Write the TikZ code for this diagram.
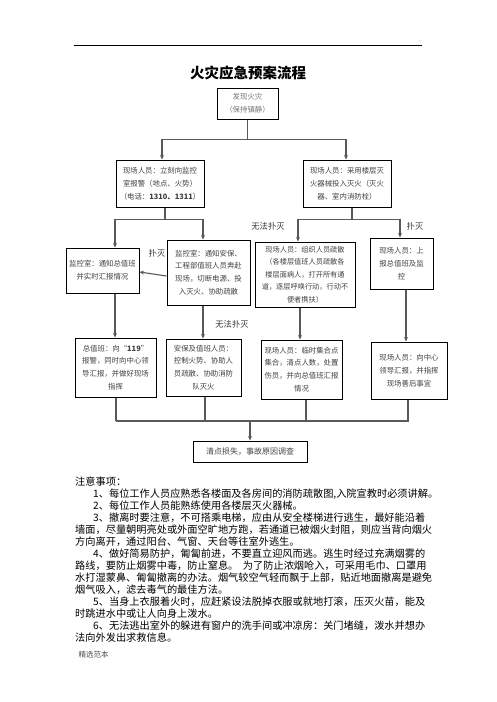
\documentclass[tikz,border=0pt]{standalone}
\usepackage{fontspec}
\setmainfont{Noto Sans CJK SC}
\usetikzlibrary{arrows.meta,calc}

\tikzset{
    box/.style={draw, line width=1pt, align=center, inner sep=1pt,
        text=black!75, font=\fontsize{7.4}{12.8}\selectfont},
    lbl/.style={font=\fontsize{8.3}{10}\selectfont, text=black!80},
    link/.style={line width=1.1pt, draw=black!65},
}

\begin{document}
\begin{tikzpicture}[x=1pt, y=-1pt, >={Stealth[length=4.5pt,width=4pt]}]
    \useasboundingbox (0,0) rectangle (496,702);

    % page head
    \draw[line width=1pt] (74,45) -- (422,45);
    \node[font=\tiny] at (420,41) {.};
    \node[font=\fontsize{14.5}{16}\selectfont\bfseries] (title) at (248,73) {火灾应急预案流程};

    % boxes
    \node[box, text=black!55, minimum width=61, minimum height=31] (found) at (247.5,103.5) {发现火灾\\（保持镇静）};
    \node[box, minimum width=88, minimum height=47] (alarm) at (160,183.5) {现场人员：立刻向监控\\室报警（地点、火势）\\（电话：\textbf{1310、1311}）};
    \node[box, minimum width=88, minimum height=47] (fight) at (347,183.5) {现场人员：采用楼层灭\\火器械投入灭火（灭火\\器、室内消防栓）};
    \node[box, minimum width=73, minimum height=45] (report) at (102.5,270.5) {监控室：通知总值班\\并实时汇报情况};
    \node[box, minimum width=83, minimum height=65] (notify) at (208.5,272.5) {监控室：通知安保、\\工程部值班人员奔赴\\现场，切断电源、投\\入灭火、协助疏散};
    \node[box, minimum width=100, minimum height=65, font=\fontsize{7.2}{12.4}\selectfont] (evac) at (305,274.5) {现场人员：组织人员疏散\\（各楼层值班人员疏散各\\楼层面病人，打开所有通\\道，逐层呼唤行动，行动不\\便者携扶）};
    \node[box, minimum width=63, minimum height=51] (upward) at (401.5,263.5) {现场人员：上\\报总值班及监\\控};
    \node[box, minimum width=81, minimum height=59] (duty) at (115.5,367.5) {总值班：向“\textbf{119}”\\报警，同时向中心领\\导汇报，并做好现场\\指挥};
    \node[box, minimum width=75, minimum height=57] (guard) at (203.5,367.5) {安保及值班人员：\\控制火势、协助人\\员疏散、协助消防\\队灭火};
    \node[box, minimum width=81, minimum height=59] (gather) at (301.5,369.5) {现场人员：临时集合点\\集合，清点人数，处置\\伤员，并向总值班汇报\\情况};
    \node[box, minimum width=76, minimum height=57] (leader) at (409,370.5) {现场人员：向中心\\领导汇报，并指挥\\现场善后事宜};
    \node[box, minimum width=114, minimum height=21, font=\fontsize{8}{10}\selectfont] (loss) at (250,451.5) {清点损失，事故原因调查};

    % connectors
    \draw[link] (found.south) -- ++(0,20) coordinate (j1);
    \draw[link, ->] (j1) -| ([xshift=2]alarm.north);
    \draw[link, ->] (j1) -| ([xshift=-1]fight.north);
    \draw[link] ([xshift=5]alarm.south) -- ++(0,12) coordinate (j2);
    \draw[link, ->] (j2) -| ([xshift=12.5]report.north);
    \draw[link, ->] (j2) -| ([xshift=-5.5]notify.north);
    \draw[link] ([xshift=5]fight.south) -- ++(0,12) coordinate (j3);
    \draw[link, ->] (j3) -| ([xshift=-7]evac.north);
    \draw[link, ->] (j3) -| ([xshift=-1.5]upward.north);
    \draw[link, ->] ([yshift=-3.5]notify.west) -- ([yshift=-1.5]report.east);
    \draw[link, ->] ([xshift=12.5]report.south) -- ([xshift=-0.5]duty.north);
    \draw[link, ->] ([xshift=-5.5]notify.south) -- ([xshift=-0.5]guard.north);
    \draw[link, ->] ([xshift=-5]evac.south) -- ([xshift=-1.5]gather.north);
    \draw[link, ->] ([xshift=4.5]upward.south) -- ([xshift=-3]leader.north);
    \draw[link] ([xshift=0.5]duty.south) -- ++(0,23.5) coordinate (j4);
    \draw[link] ([xshift=1.5]guard.south) |- (j4);
    \draw[link] ([xshift=4.5]gather.south) |- (j4);
    \draw[link] ([xshift=-1]leader.south) |- (j4);
    \draw[link, ->] (loss.north |- j4) -- (loss.north);

    % labels on the links
    \node[lbl] at (157,253) {扑灭};
    \node[lbl] at (268,226) {无法扑灭};
    \node[lbl] at (415,226) {扑灭};
    \node[lbl] at (232,324) {无法扑灭};

    % notes
    \node[anchor=north west, align=left, inner sep=0pt, font=\fontsize{10.2}{12}\selectfont] (notes) at (75,477) {%
        注意事项：\\
        \hspace*{18pt}1、每位工作人员应熟悉各楼面及各房间的消防疏散图,入院宣教时必须讲解。\\
        \hspace*{18pt}2、每位工作人员能熟练使用各楼层灭火器械。\\
        \hspace*{18pt}3、撤离时要注意，不可搭乘电梯，应由从安全楼梯进行逃生，最好能沿着\\
        墙面，尽量朝明亮处或外面空旷地方跑，若通道已被烟火封阻，则应当背向烟火\\
        方向离开，通过阳台、气窗、天台等往室外逃生。\\
        \hspace*{18pt}4、做好简易防护，匍匐前进，不要直立迎风而逃。逃生时经过充满烟雾的\\
        路线，要防止烟雾中毒，防止窒息。\ \ 为了防止浓烟呛入，可采用毛巾、口罩用\\
        水打湿蒙鼻、匍匐撤离的办法。烟气较空气轻而飘于上部，贴近地面撤离是避免\\
        烟气吸入，滤去毒气的最佳方法。\\
        \hspace*{18pt}5、当身上衣服着火时，应赶紧设法脱掉衣服或就地打滚，压灭火苗，能及\\
        时跳进水中或让人向身上泼水。\\
        \hspace*{18pt}6、无法逃出室外的躲进有窗户的洗手间或冲凉房：关门堵缝，泼水并想办\\
        法向外发出求救信息。};

    % page foot
    \node[anchor=west, font=\fontsize{7.5}{9}\selectfont, text=black!70] (foot) at (75,655) {精选范本};
\end{tikzpicture}
\end{document}
